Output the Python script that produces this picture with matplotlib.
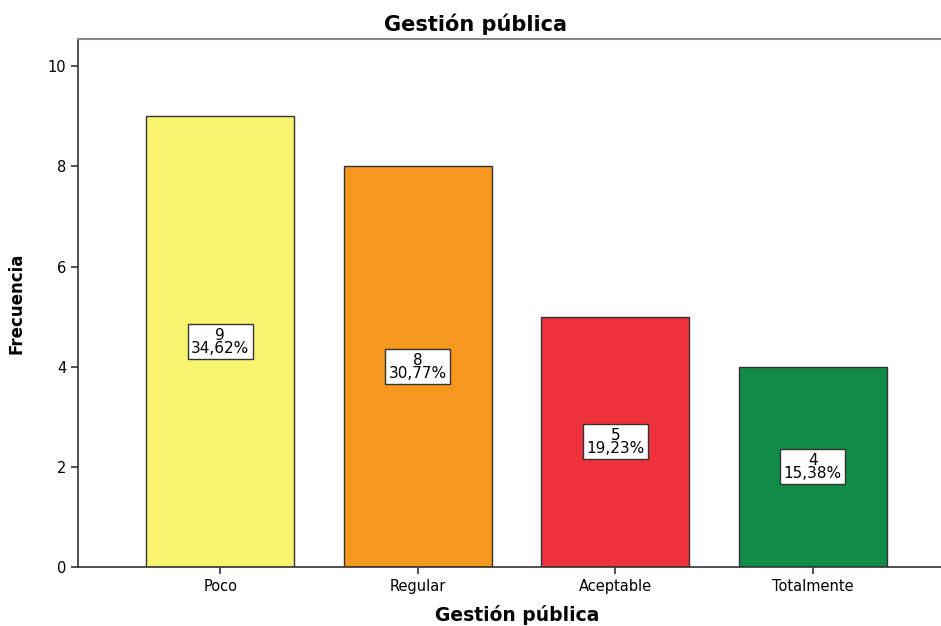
import matplotlib
matplotlib.use("Agg")
import matplotlib.pyplot as plt

categorias = ["Poco", "Regular", "Aceptable", "Totalmente"]
frecuencias = [9, 8, 5, 4]
porcentajes = ["34,62%", "30,77%", "19,23%", "15,38%"]
colores = ["#F8F46E", "#F7981E", "#EF323B", "#108C46"]

plt.rcParams["font.family"] = ["DejaVu Sans"]

fig = plt.figure(figsize=(9.41, 6.26), dpi=100)
ax = fig.add_axes([0.083, 0.094, 0.917, 0.8435])

x = list(range(len(categorias)))
ax.bar(x, frecuencias, width=0.75, color=colores, edgecolor="#333333", linewidth=1.0, zorder=2)

# etiquetas con frecuencia y porcentaje a media altura de cada barra
for xi, f, p in zip(x, frecuencias, porcentajes):
    ax.text(xi, f / 2, f"{f}\n{p}", ha="center", va="center", fontsize=11,
            linespacing=0.85, zorder=3,
            bbox=dict(boxstyle="square,pad=0.22", facecolor="white", edgecolor="#333333", linewidth=1.0))

ax.set_xlim(-0.72, 3.65)
ax.set_ylim(0, 10.54)
ax.set_yticks([0, 2, 4, 6, 8, 10])
ax.set_xticks(x)
ax.set_xticklabels(categorias)
ax.tick_params(axis="both", labelsize=10.5, length=5, width=1.2, color="#333333")

ax.spines["right"].set_visible(False)
ax.spines["top"].set_color("#888888")
ax.spines["top"].set_linewidth(1.5)
for s in ["left", "bottom"]:
    ax.spines[s].set_color("#333333")
    ax.spines[s].set_linewidth(1.2)

ax.set_ylabel("Frecuencia", fontsize=12, fontweight="bold", labelpad=16)
ax.set_xlabel("Gestión pública", fontsize=13.5, fontweight="bold")
ax.xaxis.set_label_coords(0.509, -0.072)
fig.text(0.505, 0.962, "Gestión pública", ha="center", va="center", fontsize=15, fontweight="bold")

fig.savefig("out.png", dpi=100)
